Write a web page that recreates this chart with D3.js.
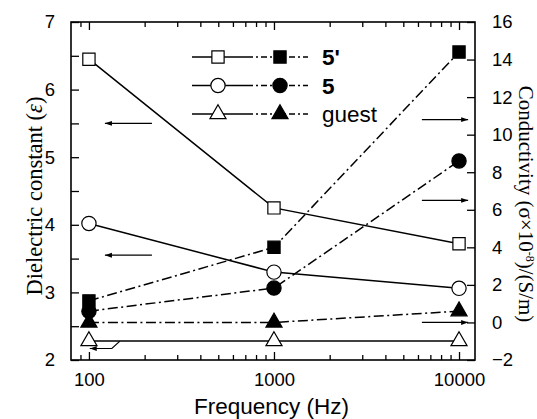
<!DOCTYPE html>
<html>
<head>
<meta charset="utf-8">
<script src="https://cdn.jsdelivr.net/npm/d3@7"></script>
<style>
  body { margin: 0; background: #fff; }
  svg { display: block; }
</style>
</head>
<body>
<div id="chart"></div>
<script>
// --- data ---
const freqs = [100, 1000, 10000];
const seriesNames = ["5'", "5", "guest"];
const symbols = ["square", "circle", "triangle"];
// dielectric constant, left axis (open symbols, solid lines)
const epsPrime = [6.45, 4.25, 3.72];
const eps5 = [4.02, 3.30, 3.06];
const epsGuest = [2.28, 2.28, 2.28];
// conductivity (x10^-8 S/m), right axis (filled symbols, dash-dot lines)
const sigPrime = [1.15, 4.0, 14.4];
const sig5 = [0.6, 1.83, 8.6];
const sigGuest = [0.0, 0.0, 0.6];
const leftTicks = [2, 3, 4, 5, 6, 7];
const rightTicks = [-2, 0, 2, 4, 6, 8, 10, 12, 14, 16];
const xTicks = [100, 1000, 10000];
// annotation arrows: [freq, value] pairs, axis they point to
const arrows = [
  { axis: "left", pts: [[219, 5.5], [122, 5.5]] },
  { axis: "left", pts: [[219, 3.55], [122, 3.55]] },
  { axis: "right", pts: [[6300, 10.8], [11200, 10.8]] },
  { axis: "right", pts: [[6300, 6.5], [11200, 6.5]] },
  { axis: "right", pts: [[6300, 0], [11200, 0]] },
  { axis: "left", pts: [[147, 2.28], [133, 2.17], [101, 2.17]] }
];

const W = 537, H = 419;
const margin = { top: 22, right: 62, bottom: 59, left: 71 };
const innerW = W - margin.left - margin.right;
const innerH = H - margin.top - margin.bottom;
const sans = "'Liberation Sans', Arial, sans-serif";
const serif = "'Liberation Serif', 'Times New Roman', serif";

const svg = d3.select("#chart").append("svg")
  .attr("width", W)
  .attr("height", H)
  .style("font-family", sans);

svg.append("defs").append("marker")
  .attr("id", "head")
  .attr("viewBox", "0 0 10 10")
  .attr("refX", 10).attr("refY", 5)
  .attr("markerWidth", 7).attr("markerHeight", 7)
  .attr("markerUnits", "userSpaceOnUse")
  .attr("orient", "auto")
  .append("path").attr("d", "M0,1.5L10,5L0,8.5Z").attr("fill", "#000");

const g = svg.append("g").attr("transform", `translate(${margin.left},${margin.top})`);

const x = d3.scaleLog().domain([80, 12200]).range([0, innerW]);
const yL = d3.scaleLinear().domain([2, 7]).range([innerH, 0]);
const yR = d3.scaleLinear().domain([-2, 16]).range([innerH, 0]);

// minor ticks on the log axis
const xMinor = [];
for (const dec of [10, 100, 1000]) for (let k = 2; k <= 9; k++) {
  const v = dec * k;
  if (v >= 90 && v < 10000 && !xTicks.includes(v)) xMinor.push(v);
}

const tickFont = 18.5;
const styleText = ax => ax.selectAll("text").attr("font-size", tickFont).attr("font-family", sans).attr("fill", "#000");

// bottom axis
g.append("g")
  .attr("transform", `translate(0,${innerH})`)
  .call(d3.axisBottom(x).tickValues(xTicks).tickFormat(d3.format("d")).tickSize(-8).tickPadding(13))
  .call(ax => ax.select(".domain").remove())
  .call(styleText);
g.append("g")
  .attr("transform", `translate(0,${innerH})`)
  .call(d3.axisBottom(x).tickValues(xMinor).tickFormat("").tickSize(-5))
  .call(ax => ax.select(".domain").remove());

// top axis
g.append("g")
  .call(d3.axisTop(x).tickValues(xTicks).tickFormat("").tickSize(-8))
  .call(ax => ax.select(".domain").remove());
g.append("g")
  .call(d3.axisTop(x).tickValues(xMinor).tickFormat("").tickSize(-5))
  .call(ax => ax.select(".domain").remove());

// left axis
g.append("g")
  .call(d3.axisLeft(yL).tickValues(leftTicks).tickFormat(d3.format("d")).tickSize(-8).tickPadding(16))
  .call(ax => ax.select(".domain").remove())
  .call(styleText);
g.append("g")
  .call(d3.axisLeft(yL).tickValues(d3.range(2.5, 7, 1)).tickFormat("").tickSize(-8))
  .call(ax => ax.select(".domain").remove());

// right axis
g.append("g")
  .attr("transform", `translate(${innerW},0)`)
  .call(d3.axisRight(yR).tickValues(rightTicks).tickFormat(d3.format("d")).tickSize(-8).tickPadding(17))
  .call(ax => ax.select(".domain").remove())
  .call(styleText);

g.selectAll(".tick line").attr("stroke", "#000").attr("stroke-width", 1.3);

// frame
g.append("rect")
  .attr("width", innerW).attr("height", innerH)
  .attr("fill", "none").attr("stroke", "#000").attr("stroke-width", 1.6);

// arrows
for (const a of arrows) {
  const yS = a.axis === "left" ? yL : yR;
  g.append("path")
    .attr("d", d3.line()(a.pts.map(p => [x(p[0]), yS(p[1])])))
    .attr("fill", "none").attr("stroke", "#000").attr("stroke-width", 1.2)
    .attr("marker-end", "url(#head)");
}

// series
const symType = { square: d3.symbolSquare, circle: d3.symbolCircle, triangle: d3.symbolTriangle };
const symSize = { square: 150, circle: 160, triangle: 112 };
const eps = [epsPrime, eps5, epsGuest];
const sig = [sigPrime, sig5, sigGuest];
const dashDot = "10,3.5,2,3.5";

function drawSeries(vals, yS, filled, i) {
  const pts = vals.map((v, j) => [x(freqs[j]), yS(v)]);
  g.append("path")
    .attr("d", d3.line()(pts))
    .attr("fill", "none").attr("stroke", "#000").attr("stroke-width", 1.5)
    .attr("stroke-dasharray", filled ? dashDot : null);
  g.selectAll(null).data(pts).join("path")
    .attr("transform", d => `translate(${d[0]},${d[1]})`)
    .attr("d", d3.symbol(symType[symbols[i]], symSize[symbols[i]]))
    .attr("fill", filled ? "#000" : "#fff")
    .attr("stroke", "#000").attr("stroke-width", 1.2);
}
sig.forEach((s, i) => drawSeries(s, yR, true, i));
eps.forEach((e, i) => drawSeries(e, yL, false, i));

// legend
const legend = svg.append("g");
seriesNames.forEach((name, i) => {
  const ly = 57 + i * 28.5;
  legend.append("line").attr("x1", 192).attr("x2", 247).attr("y1", ly).attr("y2", ly)
    .attr("stroke", "#000").attr("stroke-width", 1.5);
  legend.append("line").attr("x1", 247).attr("x2", 308).attr("y1", ly).attr("y2", ly)
    .attr("stroke", "#000").attr("stroke-width", 1.5).attr("stroke-dasharray", "6,3,2,3");
  legend.append("path").attr("transform", `translate(218,${ly})`)
    .attr("d", d3.symbol(symType[symbols[i]], symSize[symbols[i]]))
    .attr("fill", "#fff").attr("stroke", "#000").attr("stroke-width", 1.2);
  legend.append("path").attr("transform", `translate(280,${ly})`)
    .attr("d", d3.symbol(symType[symbols[i]], symSize[symbols[i]]))
    .attr("fill", "#000").attr("stroke", "#000").attr("stroke-width", 1.2);
  legend.append("text").attr("x", 322).attr("y", ly + 8)
    .attr("font-size", 22.5)
    .attr("font-weight", i < 2 ? "bold" : "normal")
    .text(name);
});

// axis titles
svg.append("text")
  .attr("x", W / 2 + 3).attr("y", 414)
  .attr("text-anchor", "middle").attr("font-size", 22.5)
  .text("Frequency (Hz)");

svg.append("text")
  .attr("transform", "translate(42,196) rotate(-90)")
  .attr("text-anchor", "middle").attr("font-size", 22.5)
  .attr("font-family", serif)
  .html("Dielectric constant (<tspan font-style='italic'>ε</tspan>)");

const rt = svg.append("text")
  .attr("transform", "translate(519,204) rotate(90)")
  .attr("text-anchor", "middle").attr("font-size", 21)
  .attr("font-family", serif);
rt.append("tspan").text("Conductivity (σ×10");
rt.append("tspan").attr("dy", -7).attr("font-size", 12).text("-8");
rt.append("tspan").attr("dy", 7).text(")/(S/m)");
</script>
</body>
</html>
